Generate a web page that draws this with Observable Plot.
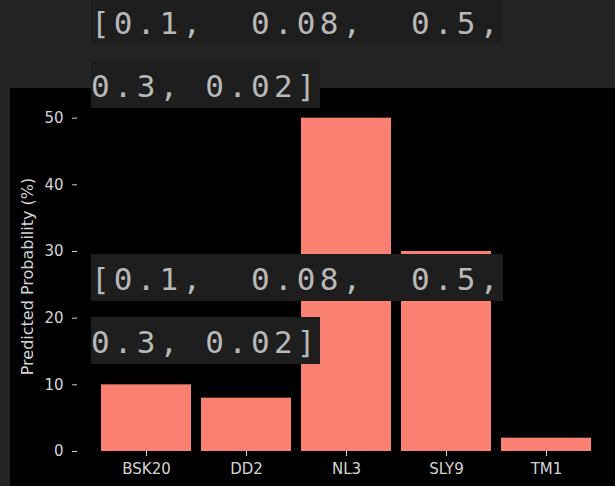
<!DOCTYPE html>
<html>
<head>
<meta charset="utf-8">
<script src="https://cdn.jsdelivr.net/npm/d3@7"></script>
<script src="https://cdn.jsdelivr.net/npm/@observablehq/plot@0.6"></script>
<style>
  html, body { margin: 0; padding: 0; }
  body { width: 615px; height: 486px; overflow: hidden; background: #242424; position: relative; }
  #chart { position: absolute; left: 10px; top: 88px; width: 605px; height: 398px; background: #000; }
  .block { position: absolute; left: 91px; }
  .row {
    display: block; width: max-content; white-space: pre;
    font-family: "DejaVu Sans Mono", monospace; font-size: 31px; letter-spacing: 4.2px;
    color: #b8b8b8; background: #1e1e1e;
    height: 47px; line-height: 43px; padding-top: 4px; box-sizing: border-box;
    margin-bottom: 16px;
  }
</style>
</head>
<body>
<div id="chart"></div>
<div class="block" id="blockA" style="top:-2px"></div>
<div class="block" id="blockB" style="top:254px"></div>
<script>
const models = ["BSK20", "DD2", "NL3", "SLY9", "TM1"];
const probabilities = [10, 8, 50, 30, 2];
const yTicks = [0, 10, 20, 30, 40, 50];
const overlayLines = ["[0.1,  0.08,  0.5,", "0.3, 0.02]"];

const data = models.map((m, i) => ({model: m, prob: probabilities[i]}));

const chart = Plot.plot({
  width: 605,
  height: 398,
  marginLeft: 67,
  marginRight: 0,
  marginTop: 13,
  marginBottom: 35,
  style: {background: "#000", color: "#d4d4d4", fontFamily: "DejaVu Sans, sans-serif", fontSize: "15px"},
  x: {type: "band", domain: models, range: [86, 586], paddingInner: 0.1, paddingOuter: 0.05, round: false},
  y: {domain: [0, 52.5]},
  marks: [
    Plot.barY(data, {x: "model", y: "prob", fill: "#fa8072"}),
    Plot.axisX({tickSize: 5, tickPadding: 7, label: null, fontSize: 15, stroke: "#d4d4d4"}),
    Plot.axisY({ticks: yTicks, tickSize: 5, tickPadding: 9, fontSize: 15,
      label: "Predicted Probability (%)", labelAnchor: "center", labelArrow: "none", labelOffset: 56})
  ]
});
chart.querySelectorAll('[aria-label="y-axis label"] text, [aria-label="y-axis label"]').forEach(e => e.style.fontSize = "16px");
document.getElementById("chart").appendChild(chart);

for (const id of ["blockA", "blockB"]) {
  const b = document.getElementById(id);
  overlayLines.forEach(t => {
    const s = document.createElement("span");
    s.className = "row";
    s.textContent = t;
    b.appendChild(s);
  });
}
</script>
</body>
</html>
